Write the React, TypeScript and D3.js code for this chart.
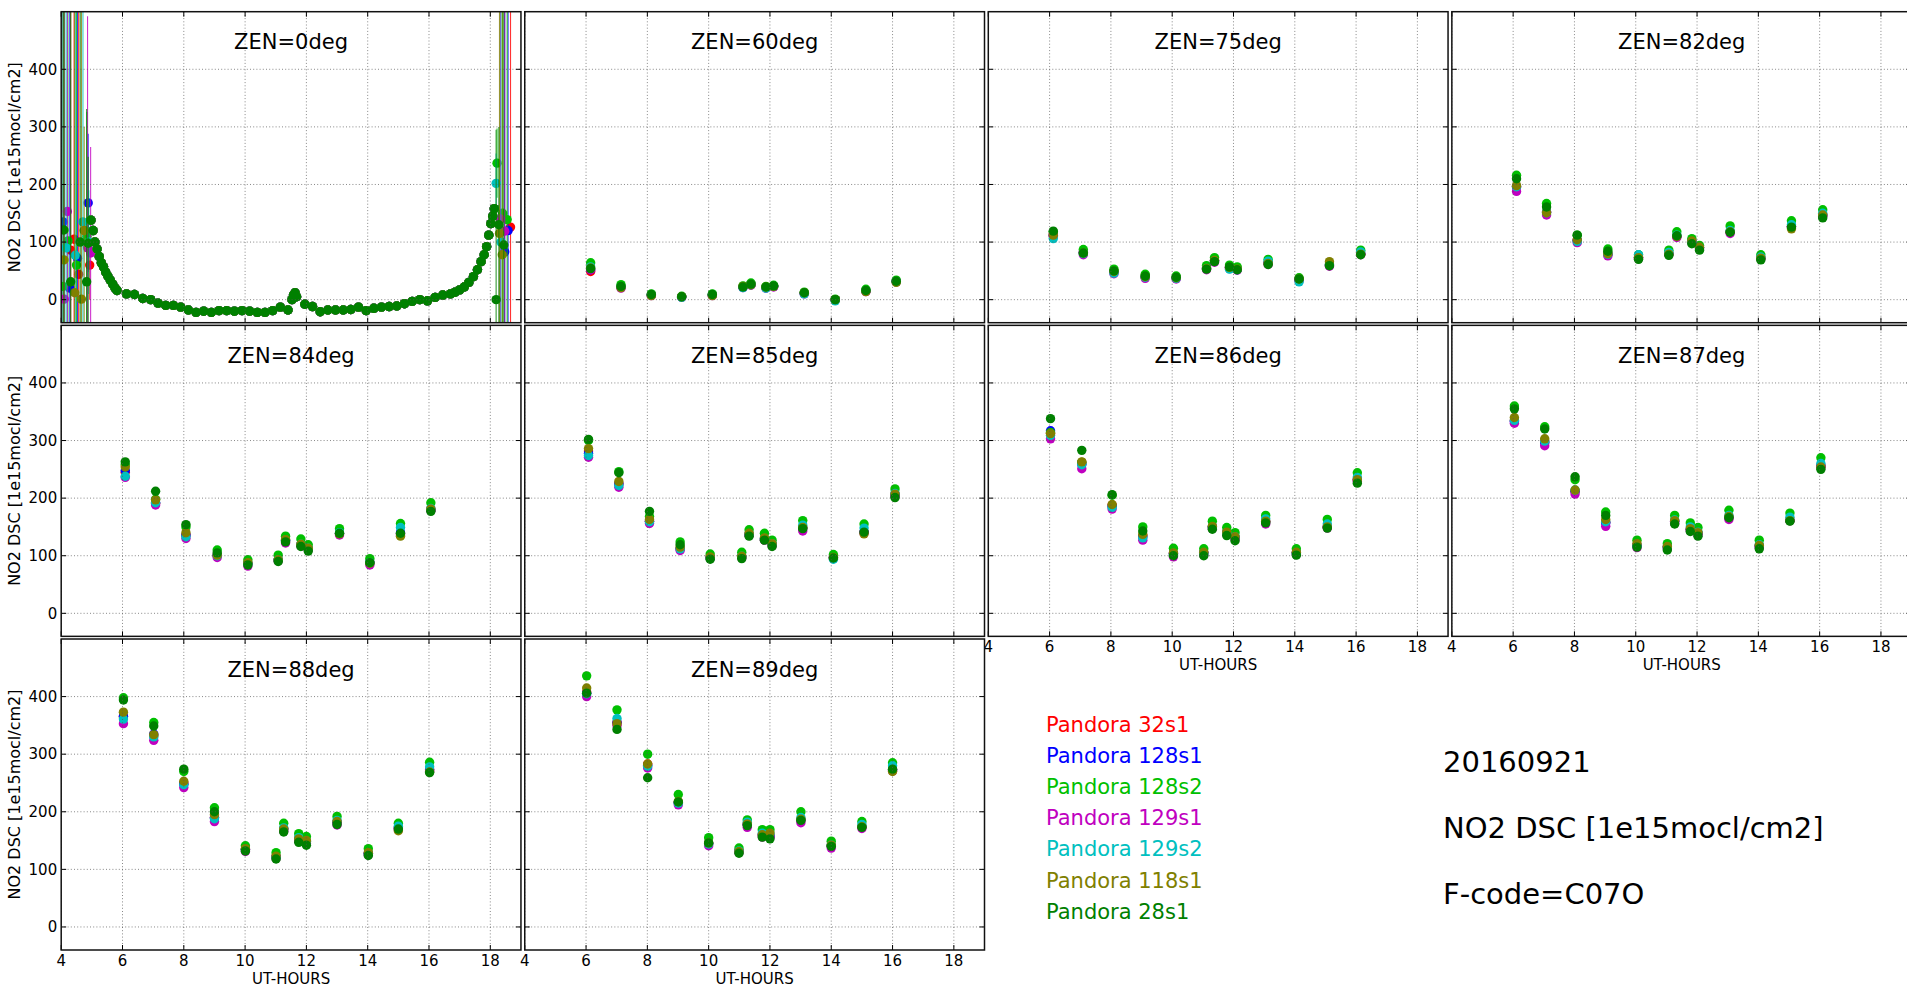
import React from 'react';
import * as d3 from 'd3';

// ---------------- data ----------------
const seriesNames = ['Pandora 32s1', 'Pandora 128s1', 'Pandora 128s2', 'Pandora 129s1', 'Pandora 129s2', 'Pandora 118s1', 'Pandora 28s1'];
const seriesColors = ['#ff0000', '#0000ff', '#00c000', '#c000c0', '#00c0c0', '#808000', '#008000'];
const panelTitles = ['ZEN=0deg', 'ZEN=60deg', 'ZEN=75deg', 'ZEN=82deg', 'ZEN=84deg', 'ZEN=85deg', 'ZEN=86deg', 'ZEN=87deg', 'ZEN=88deg', 'ZEN=89deg'];
const xTicks = [4, 6, 8, 10, 12, 14, 16, 18];
const yTicks = [0, 100, 200, 300, 400];
const xDomain = [4, 19];
const yDomain = [-40, 500];
const xLabel = 'UT-HOURS';
const yLabel = 'NO2 DSC [1e15mocl/cm2]';
const infoLines = ['20160921', 'NO2 DSC [1e15mocl/cm2]', 'F-code=C07O'];

// ZEN=0deg: smooth part (all instruments coincide)
const zen0MainHours = [4.97, 5.04, 5.10, 5.17, 5.24, 5.31, 5.38, 5.45, 5.52, 5.60, 5.68, 5.76, 5.82, 6.13, 6.39, 6.66, 6.92, 7.16, 7.41, 7.66, 7.90, 8.15, 8.40, 8.65, 8.90, 9.15, 9.40, 9.65, 9.90, 10.15, 10.40, 10.65, 10.90, 11.15, 11.40, 11.53, 11.58, 11.63, 11.68, 11.95, 12.20, 12.45, 12.70, 12.95, 13.20, 13.45, 13.70, 13.95, 14.20, 14.45, 14.70, 14.95, 15.20, 15.45, 15.70, 15.95, 16.20, 16.45, 16.70, 16.85, 17.00, 17.15, 17.30, 17.45, 17.58, 17.70, 17.80, 17.88, 17.95, 18.02, 18.08, 18.13];
const zen0MainValues = [138, 120, 100, 88, 75, 64, 57, 48, 41, 34, 27, 20, 16, 10, 9, 2, 0, -6, -10, -10, -13, -18, -22, -20, -22, -19, -19, -20, -19, -20, -22, -22, -19, -13, -18, 0, 8, 12, 5, -8, -12, -21, -18, -18, -18, -17, -13, -19, -15, -13, -12, -11, -7, -3, 0, -2, 4, 8, 10, 13, 17, 22, 30, 40, 52, 66, 78, 92, 112, 132, 145, 158];

// ZEN=0deg: noisy early morning part, per instrument
const zen0EarlyHours = [
  [4.31, 4.42, 4.57, 4.93],
  [4.06, 4.28, 4.53, 4.88],
  [4.06, 4.22, 4.50, 4.84],
  [4.10, 4.20, 4.86, 4.96],
  [4.16, 4.46, 4.71, 4.90],
  [4.09, 4.44, 4.66, 4.75],
  [4.09, 4.31, 4.62, 4.83, 4.88],
];
const zen0EarlyValues = [
  [86, 105, 44, 60],
  [135, 20, 72, 168],
  [23, 102, 60, 110],
  [1, 153, 90, 81],
  [90, 77, 135, 100],
  [69, 12, 1, 120],
  [121, 31, 100, 31, 98],
];
const zen0EarlyErrors = [
  [900, 900, 900, 60],
  [900, 900, 900, 120],
  [900, 900, 900, 216],
  [900, 900, 402, 184],
  [900, 900, 900, 90],
  [900, 900, 900, 180],
  [900, 900, 900, 300, 150],
];

// ZEN=0deg: noisy evening part, per instrument
const zen0LateHours = [
  [18.66],
  [18.47, 18.58],
  [18.22, 18.40, 18.55],
  [18.33, 18.47],
  [18.19, 18.35],
  [18.30, 18.39],
  [18.19, 18.28, 18.44],
];
const zen0LateValues = [
  [126],
  [83, 120],
  [237, 150, 139],
  [140, 119],
  [202, 100],
  [115, 78],
  [0, 130, 95],
];
const zen0LateErrors = [
  [900],
  [900, 900],
  [60, 900, 900],
  [900, 900],
  [52, 900],
  [900, 900],
  [295, 170, 900],
];

const zen60Hours = [6.15, 7.14, 8.13, 9.12, 10.12, 11.12, 11.38, 11.87, 12.12, 13.12, 14.13, 15.13, 16.12];
const zen60Values = [
  [49, 22, 8, 5, 8, 22, 26, 21, 23, 11, 0, 15, 32],
  [52, 22, 8, 5, 8, 22, 26, 21, 23, 11, 0, 15, 32],
  [64, 26, 10, 6, 10, 24, 29, 23, 25, 13, 1, 18, 34],
  [52, 20, 7, 4, 7, 21, 25, 20, 22, 10, -1, 14, 31],
  [57, 22, 8, 4, 8, 21, 26, 20, 23, 10, -2, 15, 31],
  [55, 21, 7, 5, 7, 23, 26, 22, 23, 12, 0, 14, 30],
  [54, 23, 9, 5, 9, 22, 27, 22, 24, 12, 0, 16, 32],
];

const zen75Hours = [6.12, 7.10, 8.10, 9.12, 10.13, 11.12, 11.38, 11.87, 12.12, 13.13, 14.14, 15.13, 16.15];
const zen75Values = [
  [114, 82, 48, 40, 38, 55, 68, 56, 53, 64, 35, 60, 79],
  [112, 82, 48, 40, 38, 55, 68, 56, 53, 64, 35, 60, 80],
  [118, 87, 53, 44, 41, 59, 73, 60, 57, 70, 38, 62, 86],
  [110, 78, 45, 37, 36, 52, 65, 54, 51, 61, 33, 58, 78],
  [106, 80, 46, 39, 37, 54, 67, 53, 52, 67, 31, 60, 83],
  [112, 81, 49, 40, 38, 54, 68, 56, 53, 63, 36, 66, 79],
  [119, 81, 50, 41, 39, 53, 66, 57, 52, 61, 36, 59, 78],
];

const zen82Hours = [6.11, 7.09, 8.09, 9.09, 10.09, 11.08, 11.34, 11.83, 12.08, 13.08, 14.08, 15.08, 16.10];
const zen82Values = [
  [196, 152, 103, 79, 73, 80, 110, 101, 90, 118, 72, 127, 147],
  [196, 152, 103, 79, 73, 80, 110, 101, 90, 118, 72, 127, 147],
  [216, 167, 112, 88, 78, 86, 118, 106, 94, 128, 78, 137, 156],
  [188, 147, 99, 76, 71, 78, 108, 99, 88, 115, 71, 126, 145],
  [196, 151, 101, 79, 78, 82, 112, 100, 90, 120, 74, 130, 150],
  [198, 151, 104, 80, 73, 79, 110, 102, 91, 118, 72, 123, 147],
  [210, 161, 112, 84, 70, 77, 111, 97, 86, 117, 69, 126, 142],
];

const zen84Hours = [6.09, 7.08, 8.07, 9.09, 10.09, 11.08, 11.32, 11.82, 12.06, 13.08, 14.07, 15.07, 16.06];
const zen84Values = [
  [245, 191, 136, 101, 87, 93, 126, 119, 112, 138, 88, 138, 180],
  [248, 192, 136, 101, 87, 93, 126, 119, 112, 138, 88, 140, 180],
  [258, 198, 150, 110, 93, 101, 134, 129, 119, 147, 95, 156, 192],
  [236, 188, 130, 97, 82, 91, 122, 117, 110, 136, 84, 136, 178],
  [238, 192, 133, 100, 86, 93, 127, 120, 113, 140, 88, 149, 182],
  [254, 197, 140, 101, 88, 93, 128, 120, 113, 138, 87, 134, 181],
  [263, 212, 154, 105, 84, 90, 124, 116, 108, 139, 88, 139, 177],
];

const zen85Hours = [6.08, 7.07, 8.07, 9.07, 10.05, 11.08, 11.32, 11.82, 12.07, 13.07, 14.07, 15.07, 16.08];
const zen85Values = [
  [282, 225, 160, 112, 97, 98, 137, 129, 120, 148, 97, 141, 206],
  [278, 225, 160, 112, 97, 98, 137, 129, 120, 148, 97, 141, 206],
  [300, 246, 168, 124, 103, 106, 145, 139, 127, 161, 102, 155, 216],
  [271, 219, 156, 109, 95, 96, 135, 127, 117, 143, 95, 139, 203],
  [274, 222, 159, 112, 96, 99, 138, 130, 121, 153, 94, 148, 208],
  [286, 229, 163, 115, 98, 99, 139, 131, 121, 149, 97, 138, 207],
  [302, 244, 177, 119, 94, 95, 134, 127, 116, 147, 96, 141, 201],
];

const zen86Hours = [6.03, 7.05, 8.04, 9.04, 10.04, 11.03, 11.31, 11.78, 12.05, 13.05, 14.05, 15.06, 16.04];
const zen86Values = [
  [312, 262, 188, 135, 104, 105, 150, 140, 132, 159, 105, 150, 232],
  [317, 259, 186, 133, 104, 105, 150, 140, 132, 159, 105, 150, 232],
  [314, 262, 205, 150, 113, 112, 160, 149, 140, 170, 112, 163, 244],
  [303, 251, 181, 127, 98, 101, 147, 137, 128, 155, 102, 148, 229],
  [309, 258, 184, 131, 102, 104, 150, 140, 133, 164, 104, 155, 236],
  [312, 263, 189, 137, 105, 106, 151, 141, 133, 160, 106, 150, 232],
  [338, 283, 206, 143, 100, 100, 146, 135, 126, 157, 101, 148, 226],
];

const zen87Hours = [6.04, 7.03, 8.02, 9.02, 10.04, 11.03, 11.27, 11.78, 12.03, 13.04, 14.03, 15.03, 16.04];
const zen87Values = [
  [335, 298, 212, 158, 118, 115, 160, 146, 139, 167, 117, 161, 256],
  [333, 296, 212, 157, 118, 115, 160, 146, 139, 167, 117, 161, 256],
  [360, 324, 232, 176, 127, 121, 170, 157, 149, 179, 127, 174, 270],
  [330, 291, 207, 151, 114, 112, 156, 143, 136, 163, 114, 161, 253],
  [335, 299, 214, 159, 117, 115, 162, 150, 141, 170, 119, 167, 260],
  [340, 303, 214, 163, 121, 116, 161, 147, 140, 168, 118, 161, 254],
  [355, 320, 237, 170, 115, 110, 155, 142, 134, 166, 112, 160, 250],
];

const zen88Hours = [6.03, 7.02, 8.00, 9.00, 10.01, 11.01, 11.26, 11.75, 12.00, 13.00, 14.02, 15.00, 16.02];
const zen88Values = [
  [365, 332, 250, 190, 135, 122, 170, 153, 148, 182, 128, 172, 273],
  [366, 335, 248, 190, 135, 122, 170, 153, 148, 182, 128, 172, 273],
  [398, 355, 270, 207, 141, 129, 180, 162, 157, 192, 136, 180, 286],
  [353, 324, 242, 183, 131, 119, 166, 149, 145, 177, 125, 169, 270],
  [361, 330, 247, 188, 134, 121, 172, 155, 149, 185, 127, 175, 278],
  [373, 334, 253, 195, 136, 123, 170, 153, 150, 183, 129, 167, 269],
  [394, 349, 274, 200, 132, 118, 165, 147, 142, 178, 124, 170, 268],
];

const zen89Hours = [6.02, 7.01, 8.01, 9.01, 10.00, 10.99, 11.26, 11.75, 12.00, 13.01, 14.00, 15.00, 16.00];
const zen89Values = [
  [408, 355, 283, 216, 145, 132, 178, 160, 158, 186, 141, 174, 273],
  [406, 355, 281, 216, 145, 132, 178, 160, 158, 186, 141, 174, 273],
  [436, 377, 300, 230, 155, 137, 186, 169, 169, 200, 149, 183, 285],
  [400, 350, 276, 212, 141, 129, 173, 156, 155, 181, 137, 171, 271],
  [405, 362, 279, 215, 144, 132, 182, 163, 162, 190, 142, 178, 280],
  [415, 353, 283, 218, 146, 131, 179, 160, 163, 187, 142, 174, 270],
  [406, 343, 259, 217, 146, 128, 176, 156, 153, 185, 140, 173, 274],
];

// ---------------- layout ----------------
const W = 1907;
const H = 986;
const PW = 459.75;
const PH = 311;
const LEFT0 = 61.2;
const TOP0 = 11.7;
const COL_PITCH = 463.55;
const ROW_PITCH = 313.65;
const FONT = 'DejaVu Sans, Verdana, sans-serif';

type Pt = { h: number; v: number; e: number };

function buildPanels(): Pt[][][] {
  const discrete: [number[], number[][]][] = [
    [zen60Hours, zen60Values],
    [zen75Hours, zen75Values],
    [zen82Hours, zen82Values],
    [zen84Hours, zen84Values],
    [zen85Hours, zen85Values],
    [zen86Hours, zen86Values],
    [zen87Hours, zen87Values],
    [zen88Hours, zen88Values],
    [zen89Hours, zen89Values],
  ];
  const zen0: Pt[][] = seriesNames.map((_, s) => {
    const pts: Pt[] = [];
    zen0EarlyHours[s].forEach((h, i) => pts.push({ h, v: zen0EarlyValues[s][i], e: zen0EarlyErrors[s][i] }));
    zen0MainHours.forEach((h, i) => pts.push({ h, v: zen0MainValues[i], e: 0 }));
    zen0LateHours[s].forEach((h, i) => pts.push({ h, v: zen0LateValues[s][i], e: zen0LateErrors[s][i] }));
    return pts;
  });
  const rest = discrete.map(([hours, vals]) =>
    seriesNames.map((_, s) => hours.map((h, i) => ({ h, v: vals[s][i], e: 0 })))
  );
  return [zen0, ...rest];
}

export default function App() {
  const x = d3.scaleLinear().domain(xDomain).range([0, PW]);
  const y = d3.scaleLinear().domain(yDomain).range([PH, 0]);
  const panels = buildPanels();

  return (
    <svg width={W} height={H} viewBox={`0 0 ${W} ${H}`} style={{ position: 'absolute', left: 0, top: 0, background: '#fff' }} fontFamily={FONT}>
      <rect x={0} y={0} width={W} height={H} fill="#fff" />
      <defs>
        {panels.map((_, i) => (
          <clipPath id={`clip${i}`} key={i}>
            <rect x={0} y={0} width={PW} height={PH} />
          </clipPath>
        ))}
      </defs>
      {panels.map((series, i) => {
        const row = Math.floor(i / 4);
        const col = i % 4;
        const left = LEFT0 + col * COL_PITCH;
        const top = TOP0 + row * ROW_PITCH;
        const showX = row === 2 || (row === 1 && col >= 2);
        const showY = col === 0;
        return (
          <g key={i} transform={`translate(${left},${top})`}>
            <rect x={0} y={0} width={PW} height={PH} fill="#fff" />
            <g clipPath={`url(#clip${i})`}>
              {series.map((pts, s) => (
                <g key={s}>
                  {pts.filter((p) => p.e > 0).map((p, k) => (
                    <line key={`e${k}`} x1={x(p.h)} x2={x(p.h)} y1={y(p.v - p.e)} y2={y(p.v + p.e)} stroke={seriesColors[s]} strokeWidth={1.1} strokeOpacity={0.8} />
                  ))}
                  {pts.map((p, k) => (
                    <circle key={k} cx={x(p.h)} cy={y(p.v)} r={4.7} fill={seriesColors[s]} />
                  ))}
                </g>
              ))}
              {xTicks.map((t) => (
                <line key={`gx${t}`} x1={x(t)} x2={x(t)} y1={0} y2={PH} stroke="#555" strokeWidth={0.7} strokeDasharray="1,2.2" />
              ))}
              {yTicks.map((t) => (
                <line key={`gy${t}`} x1={0} x2={PW} y1={y(t)} y2={y(t)} stroke="#555" strokeWidth={0.7} strokeDasharray="1,2.2" />
              ))}
            </g>
            {xTicks.map((t) => (
              <g key={`tx${t}`}>
                <line x1={x(t)} x2={x(t)} y1={PH} y2={PH - 5} stroke="#000" strokeWidth={1} />
                <line x1={x(t)} x2={x(t)} y1={0} y2={5} stroke="#000" strokeWidth={1} />
              </g>
            ))}
            {yTicks.map((t) => (
              <g key={`ty${t}`}>
                <line x1={0} x2={5} y1={y(t)} y2={y(t)} stroke="#000" strokeWidth={1} />
                <line x1={PW} x2={PW - 5} y1={y(t)} y2={y(t)} stroke="#000" strokeWidth={1} />
              </g>
            ))}
            <rect x={0} y={0} width={PW} height={PH} fill="none" stroke="#111" strokeWidth={1.5} />
            <text x={PW / 2} y={37.5} textAnchor="middle" fontSize={21} fill="#000">{panelTitles[i]}</text>
            {showY && yTicks.map((t) => (
              <text key={`ly${t}`} x={-4} y={y(t) + 5.3} textAnchor="end" fontSize={15} fill="#000">{t}</text>
            ))}
            {showY && (
              <text transform={`translate(${20 - left},${PH / 2}) rotate(-90)`} textAnchor="middle" fontSize={16} fill="#000">{yLabel}</text>
            )}
            {showX && xTicks.map((t) => (
              <text key={`lx${t}`} x={x(t)} y={PH + 15.5} textAnchor="middle" fontSize={15} fill="#000">{t}</text>
            ))}
            {showX && (
              <text x={PW / 2} y={PH + 33.5} textAnchor="middle" fontSize={15} fill="#000">{xLabel}</text>
            )}
          </g>
        );
      })}
      {seriesNames.map((name, s) => (
        <text key={name} x={1046} y={732 + s * 31.1} fontSize={21} fill={seriesColors[s]}>{name}</text>
      ))}
      {infoLines.map((t, k) => (
        <text key={t} x={1443} y={772 + k * 66} fontSize={29} fill="#000">{t}</text>
      ))}
    </svg>
  );
}
